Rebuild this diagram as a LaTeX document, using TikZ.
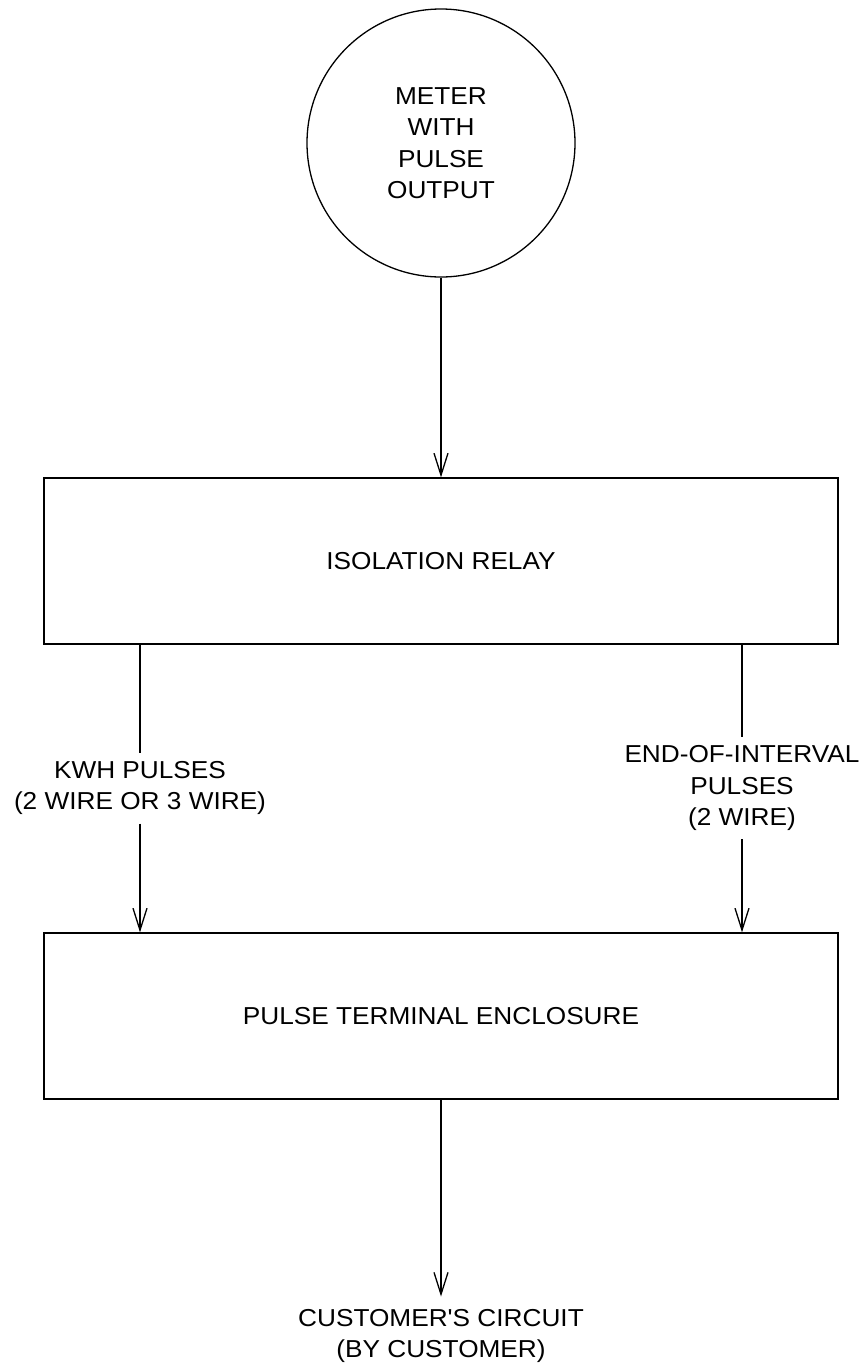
\documentclass[tikz,border=0pt]{standalone}
\usepackage{fontspec}
\setmainfont[FakeStretch=1.07,Ligatures=TeXOff]{Liberation Sans}
\usetikzlibrary{arrows.meta}
\begin{document}
\begin{tikzpicture}[x=1pt,y=-1pt, line width=1.3pt,
  every node/.style={font=\fontsize{24.5}{31.5}\selectfont, align=center},
  box/.style={draw, minimum width=794pt, minimum height=166pt, inner sep=0pt},
  lbl/.style={inner sep=8pt},
  arr/.style={-{Straight Barb[length=22pt,width=14pt]}}]
\useasboundingbox (0,0) rectangle (863,1366);
\node[draw, circle, minimum size=268pt, inner sep=0pt] (meter) at (441,143) {METER\\WITH\\PULSE\\OUTPUT};
\node[box] (relay) at (441,561) {ISOLATION RELAY};
\node[box] (enc) at (441,1016) {PULSE TERMINAL ENCLOSURE};
\node[lbl] (kwh) at (140,788) {KWH PULSES\\(2 WIRE OR 3 WIRE)};
\node[lbl] (eoi) at (742,788) {END-OF-INTERVAL\\PULSES\\(2 WIRE)};
\node[lbl, inner sep=12pt] (cust) at (441,1336) {CUSTOMER'S CIRCUIT\\(BY CUSTOMER)};
\draw[arr] (meter.south) -- (relay.north);
\draw (relay.south -| kwh) -- (kwh.north);
\draw[arr] (kwh.south) -- (enc.north -| kwh);
\draw (relay.south -| eoi) -- (eoi.north);
\draw[arr] (eoi.south) -- (enc.north -| eoi);
\draw[arr] (enc.south) -- (cust.north);
\end{tikzpicture}
\end{document}
